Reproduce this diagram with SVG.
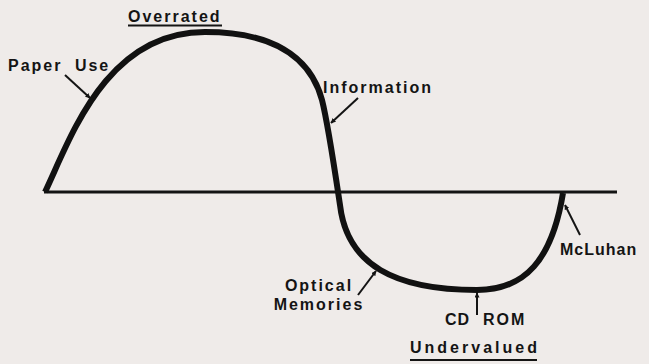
<svg xmlns="http://www.w3.org/2000/svg" width="649" height="364" viewBox="0 0 649 364">
<style>
text{font-family:"Liberation Sans",Arial,sans-serif;font-weight:bold;font-size:16px;fill:#141414;letter-spacing:2px}
.arr{stroke:#141414;stroke-width:2;fill:none;marker-end:url(#ah)}
.ul{stroke:#141414;stroke-width:2}
</style>
<defs>
<marker id="ah" viewBox="0 0 10 10" refX="9" refY="5" markerWidth="5" markerHeight="5" orient="auto" markerUnits="userSpaceOnUse">
<path d="M0,0 L10,5 L0,10 z" fill="#141414"/>
</marker>
</defs>
<rect width="649" height="364" fill="#efebe9"/>
<g id="axis"><line x1="44" y1="192" x2="617" y2="192" stroke="#141414" stroke-width="3"/></g>
<g id="curve"><path d="M45,192 C 70,140 105,32 205,32 C 270,32 310,55 322,100 C 328,124 334,165 340,205 C 347,265 395,290 477,290 C 525,290 552,260 563,193" fill="none" stroke="#111" stroke-width="6" stroke-linecap="butt"/></g>
<g id="overrated"><text x="128" y="22">Overrated</text><line class="ul" x1="128" y1="25.5" x2="222" y2="25.5"/></g>
<g id="undervalued"><text x="410" y="353" style="letter-spacing:3px">Undervalued</text><line class="ul" x1="410" y1="360" x2="537" y2="360"/></g>
<g id="connectors">
<line class="arr" x1="65" y1="75" x2="90" y2="98"/>
<line class="arr" x1="358" y1="98" x2="331" y2="123"/>
<line class="arr" x1="358" y1="295" x2="376" y2="271"/>
<line class="arr" x1="477" y1="315" x2="477" y2="293"/>
<line class="arr" x1="580" y1="235" x2="565" y2="205"/>
</g>
<g id="paper-use"><text x="8" y="71" style="word-spacing:6px">Paper Use</text></g>
<g id="information"><text x="323" y="93">Information</text></g>
<g id="optical-memories"><text x="319" y="291" text-anchor="middle">Optical</text><text x="319" y="310" text-anchor="middle">Memories</text></g>
<g id="cd-rom"><text x="445" y="325" style="letter-spacing:1px">CD</text><text x="483" y="325">ROM</text></g>
<g id="mcluhan"><text x="560" y="255" style="letter-spacing:1px">McLuhan</text></g>
</svg>
